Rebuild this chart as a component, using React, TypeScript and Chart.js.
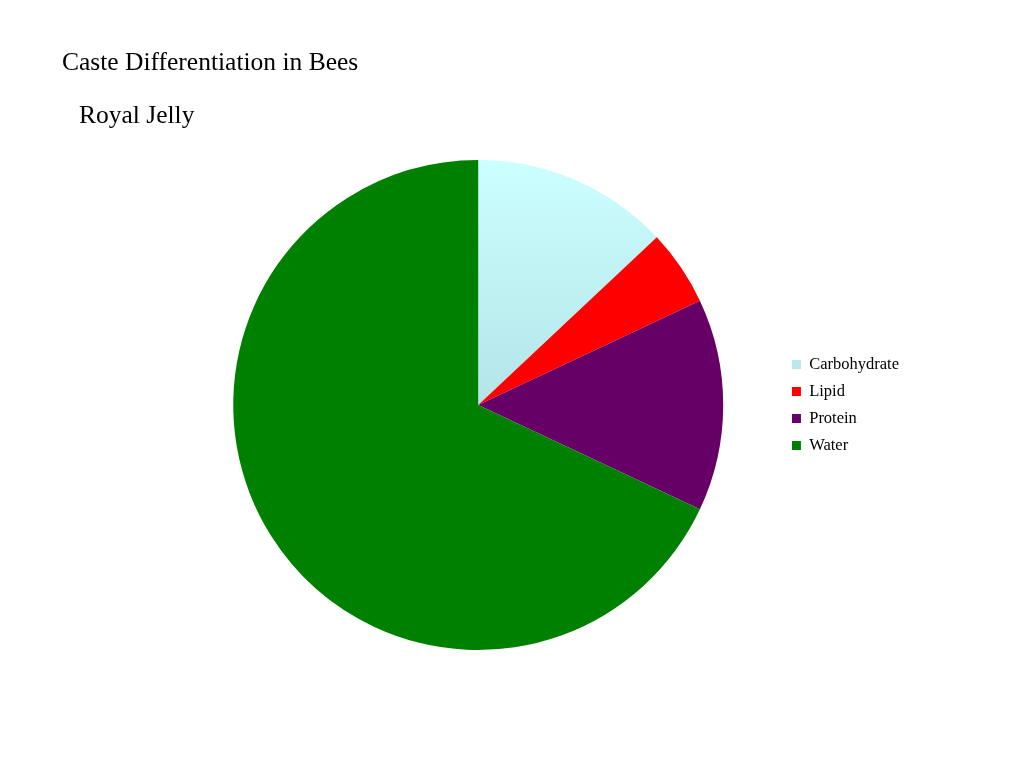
import React, { useEffect, useRef } from "react";
import { Chart, registerables } from "chart.js";

Chart.register(...registerables);

const TITLE = "Caste Differentiation in Bees";
const SUBTITLE = "Royal Jelly";
const categories = ["Carbohydrate", "Lipid", "Protein", "Water"];
const values = [13, 5, 14, 68];
const sliceColors = ["#C4F5F7", "#FF0000", "#660066", "#008000"];

export default function App() {
  const ref = useRef<HTMLCanvasElement | null>(null);

  useEffect(() => {
    if (!ref.current) return;
    const chart = new Chart(ref.current, {
      type: "pie",
      data: {
        labels: categories,
        datasets: [
          {
            data: values,
            backgroundColor: (ctx: any) => {
              const i = ctx.dataIndex;
              if (i !== 0) return sliceColors[i];
              const area = ctx.chart.chartArea;
              if (!area) return sliceColors[0];
              const g = ctx.chart.ctx.createLinearGradient(0, area.top, 0, area.bottom);
              g.addColorStop(0, "#CCFFFF");
              g.addColorStop(0.5, "#B4E4E8");
              g.addColorStop(1, "#A8D8DC");
              return g;
            },
            borderWidth: 0,
          },
        ],
      },
      options: {
        animation: false,
        responsive: false,
        maintainAspectRatio: false,
        layout: { padding: { top: 160, bottom: 118, left: 175, right: 115 } },
        plugins: {
          title: { display: false },
          tooltip: { enabled: false },
          legend: {
            position: "right",
            labels: {
              boxWidth: 9,
              boxHeight: 9,
              padding: 10.5,
              color: "#000000",
              font: { family: "'Liberation Serif', 'Times New Roman', serif", size: 16.5 },
            },
          },
        },
      },
    });
    return () => chart.destroy();
  }, []);

  const textStyle: React.CSSProperties = {
    position: "absolute",
    fontFamily: "'Liberation Serif', 'Times New Roman', serif",
    fontSize: 25.5,
    color: "#000",
    whiteSpace: "nowrap",
    lineHeight: "30px",
  };

  return (
    <div style={{ position: "absolute", left: 0, top: 0, width: 1024, height: 768, background: "#fff" }}>
      <canvas ref={ref} width={1024} height={768} style={{ position: "absolute", left: 0, top: 0, width: 1024, height: 768 }} />
      <div style={{ ...textStyle, left: 62, top: 47 }}>{TITLE}</div>
      <div style={{ ...textStyle, left: 79, top: 100 }}>{SUBTITLE}</div>
    </div>
  );
}
